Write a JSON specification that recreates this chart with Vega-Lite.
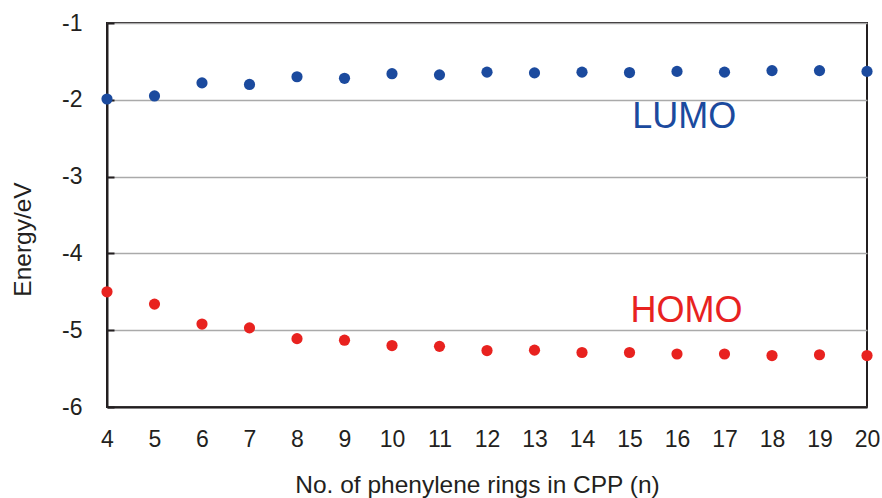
{
  "$schema": "https://vega.github.io/schema/vega-lite/v6.json",
  "autosize": {"type": "none"},
  "padding": {"left": 107, "top": 23, "right": 15, "bottom": 91},
  "width": 760,
  "height": 384,
  "background": "white",
  "config": {
    "view": {"stroke": "#231f20", "strokeWidth": 2},
    "font": "Liberation Sans"
  },
  "datasets": {
    "pts": [
      {"n": 4, "E": -1.99, "orbital": "LUMO"},
      {"n": 5, "E": -1.95, "orbital": "LUMO"},
      {"n": 6, "E": -1.78, "orbital": "LUMO"},
      {"n": 7, "E": -1.80, "orbital": "LUMO"},
      {"n": 8, "E": -1.70, "orbital": "LUMO"},
      {"n": 9, "E": -1.72, "orbital": "LUMO"},
      {"n": 10, "E": -1.66, "orbital": "LUMO"},
      {"n": 11, "E": -1.675, "orbital": "LUMO"},
      {"n": 12, "E": -1.64, "orbital": "LUMO"},
      {"n": 13, "E": -1.65, "orbital": "LUMO"},
      {"n": 14, "E": -1.64, "orbital": "LUMO"},
      {"n": 15, "E": -1.645, "orbital": "LUMO"},
      {"n": 16, "E": -1.63, "orbital": "LUMO"},
      {"n": 17, "E": -1.64, "orbital": "LUMO"},
      {"n": 18, "E": -1.62, "orbital": "LUMO"},
      {"n": 19, "E": -1.62, "orbital": "LUMO"},
      {"n": 20, "E": -1.63, "orbital": "LUMO"},
      {"n": 4, "E": -4.50, "orbital": "HOMO"},
      {"n": 5, "E": -4.66, "orbital": "HOMO"},
      {"n": 6, "E": -4.92, "orbital": "HOMO"},
      {"n": 7, "E": -4.97, "orbital": "HOMO"},
      {"n": 8, "E": -5.11, "orbital": "HOMO"},
      {"n": 9, "E": -5.13, "orbital": "HOMO"},
      {"n": 10, "E": -5.20, "orbital": "HOMO"},
      {"n": 11, "E": -5.21, "orbital": "HOMO"},
      {"n": 12, "E": -5.265, "orbital": "HOMO"},
      {"n": 13, "E": -5.26, "orbital": "HOMO"},
      {"n": 14, "E": -5.29, "orbital": "HOMO"},
      {"n": 15, "E": -5.29, "orbital": "HOMO"},
      {"n": 16, "E": -5.31, "orbital": "HOMO"},
      {"n": 17, "E": -5.31, "orbital": "HOMO"},
      {"n": 18, "E": -5.33, "orbital": "HOMO"},
      {"n": 19, "E": -5.32, "orbital": "HOMO"},
      {"n": 20, "E": -5.33, "orbital": "HOMO"}
    ],
    "labels": [
      {"n": 16.15, "E": -2.23, "orbital": "LUMO"},
      {"n": 16.2, "E": -4.75, "orbital": "HOMO"}
    ]
  },
  "layer": [
    {
      "data": {"name": "pts"},
      "mark": {"type": "circle", "size": 125, "opacity": 1},
      "encoding": {
        "x": {
          "field": "n", "type": "quantitative",
          "scale": {"domain": [4, 20], "nice": false, "zero": false},
          "axis": {
            "title": "No. of phenylene rings in CPP (n)",
            "values": [4,5,6,7,8,9,10,11,12,13,14,15,16,17,18,19,20],
            "labelFlush": false, "labelOverlap": false,
            "grid": false, "ticks": false,
            "domainColor": "#231f20", "domainWidth": 2,
            "labelFontSize": 23, "labelColor": "#231f20", "labelPadding": 21,
            "titleFontSize": 24.5, "titleFontWeight": "normal", "titleColor": "#231f20", "titlePadding": 22,
            "titleX": 370
          }
        },
        "y": {
          "field": "E", "type": "quantitative",
          "scale": {"domain": [-6, -1], "nice": false, "zero": false},
          "axis": {
            "title": "Energy/eV",
            "values": [-6, -5, -4, -3, -2, -1],
            "labelExpr": "datum.value + ''",
            "labelFlush": false, "labelOverlap": false,
            "grid": true, "gridColor": "#aaaaaa", "gridWidth": 1.5,
            "ticks": true, "tickSize": -7, "tickColor": "#231f20", "tickWidth": 2,
            "domainColor": "#231f20", "domainWidth": 2,
            "labelFontSize": 23, "labelColor": "#231f20", "labelPadding": 32,
            "titleFontSize": 24.5, "titleFontWeight": "normal", "titleColor": "#231f20", "titlePadding": 26,
            "titleY": 216
          }
        },
        "color": {
          "field": "orbital", "type": "nominal",
          "scale": {"domain": ["LUMO", "HOMO"], "range": ["#1b4a9e", "#e8221f"]},
          "legend": null
        }
      }
    },
    {
      "data": {"name": "labels"},
      "mark": {"type": "text", "fontSize": 36, "align": "center", "baseline": "middle"},
      "encoding": {
        "x": {"field": "n", "type": "quantitative"},
        "y": {"field": "E", "type": "quantitative"},
        "text": {"field": "orbital"},
        "color": {"field": "orbital", "type": "nominal", "legend": null}
      }
    }
  ]
}
